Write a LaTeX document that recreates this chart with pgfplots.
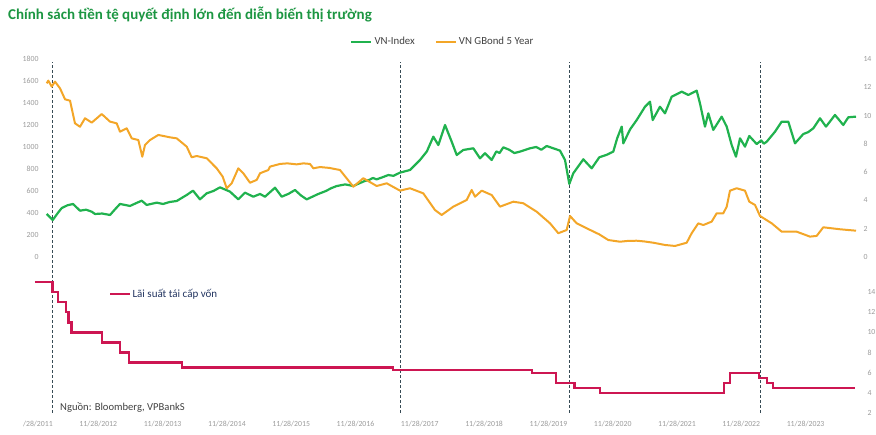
\documentclass[border=0pt]{standalone}
\usepackage{pgfplots}
\pgfplotsset{compat=1.18}
\usepackage{fontspec}
\setmainfont{Carlito}
\definecolor{vngreen}{RGB}{32,178,78}
\definecolor{bondorange}{RGB}{243,166,40}
\definecolor{ratered}{RGB}{205,22,82}
\definecolor{titlegreen}{RGB}{28,150,66}
\definecolor{tickgray}{RGB}{155,155,155}
\definecolor{legtext}{RGB}{64,64,64}
\definecolor{legnavy}{RGB}{34,52,96}
\definecolor{dashcol}{RGB}{55,75,85}
\pgfplotsset{
  base/.style={
    scale only axis,
    axis line style={draw=none},
    tick style={draw=none},
    ticklabel style={font=\fontsize{7.8}{9}\selectfont, text=tickgray},
    /pgf/number format/assume math mode=true,
    /pgf/number format/1000 sep={},
    legend image code/.code={\draw[#1] (0pt,0pt) -- (20pt,0pt);},
  }
}
\begin{document}
\begin{tikzpicture}
\useasboundingbox (0pt,0pt) rectangle (876pt,435pt);
\node[anchor=west, inner sep=0pt, text=titlegreen, font=\fontsize{15}{17}\selectfont\bfseries] at (8pt,420pt) {Chính sách tiền tệ quyết định lớn đến diễn biến thị trường};
% bottom panel: refinancing rate
\begin{axis}[base,
  at={(30pt,22pt)}, anchor=south west, width=834pt, height=141pt,
  xmin=2011.848, xmax=2024.818, ymin=2, ymax=16,
  ytick={2,4,6,8,10,12,14}, yticklabel pos=right, ytick pos=right,
  xtick={2011.91,2012.91,2013.91,2014.91,2015.91,2016.91,2017.91,2018.91,2019.91,2020.91,2021.91,2022.91,2023.91},
  xticklabels={\phantom{11}/28/2011,11/28/2012,11/28/2013,11/28/2014,11/28/2015,11/28/2016,11/28/2017,11/28/2018,11/28/2019,11/28/2020,11/28/2021,11/28/2022,11/28/2023},
  xticklabel style={yshift=-5pt},
  clip=false,
  legend style={at={(0.0947,0.844)}, anchor=west, draw=none, fill=none, inner sep=0pt,
    font=\fontsize{11}{12}\selectfont, text=legnavy,
    nodes={inner xsep=1pt}},
]
\addplot[dashcol, line width=0.7pt, dash pattern=on 3pt off 2pt, forget plot] coordinates {(2012.190,2) (2012.190,36.86)};
\addplot[dashcol, line width=0.7pt, dash pattern=on 3pt off 2pt, forget plot] coordinates {(2017.602,2) (2017.602,36.86)};
\addplot[dashcol, line width=0.7pt, dash pattern=on 3pt off 2pt, forget plot] coordinates {(2020.230,2) (2020.230,36.86)};
\addplot[dashcol, line width=0.7pt, dash pattern=on 3pt off 2pt, forget plot] coordinates {(2023.201,2) (2023.201,36.86)};
\addplot[ratered, line width=2.4pt, const plot] coordinates {
(2011.925,15) (2012.196,14) (2012.280,13) (2012.412,12) (2012.445,11) (2012.496,10)
(2012.967,9) (2013.243,8) (2013.384,7) (2014.212,6.5) (2017.493,6.25) (2019.655,6)
(2020.028,5) (2020.316,4.5) (2020.712,4) (2022.641,5) (2022.734,6) (2023.185,5.5)
(2023.309,5) (2023.403,4.5) (2024.678,4.5)};
\addlegendentry{Lãi suất tái cấp vốn}
\end{axis}
\node[anchor=west, inner sep=0pt, text=legtext, font=\fontsize{10.6}{12}\selectfont] at (60pt,28pt) {Nguồn: Bloomberg, VPBankS};
% top panel left: VN-Index
\begin{axis}[base,
  at={(42pt,178pt)}, anchor=south west, width=818pt, height=198pt,
  xmin=2012.034, xmax=2024.756, ymin=0, ymax=1800,
  ytick={0,200,...,1800}, xtick=\empty,
]
\addplot[vngreen, line width=2.2pt, line join=round] coordinates {
(2012.107,391) (2012.201,336) (2012.28,400) (2012.341,445) (2012.43,470) (2012.516,482) (2012.625,421) (2012.72,430) (2012.807,412)
(2012.858,391) (2012.97,395) (2013.092,382) (2013.18,440) (2013.247,482) (2013.403,464) (2013.5,490) (2013.585,512) (2013.662,473)
(2013.818,494) (2013.916,482) (2014.02,500) (2014.129,509) (2014.285,564) (2014.383,603) (2014.491,524)
(2014.596,579) (2014.7,600) (2014.802,633) (2014.958,594) (2015.087,524) (2015.191,585) (2015.320,548)
(2015.425,573) (2015.502,548) (2015.658,630) (2015.762,548) (2015.87,575) (2015.969,609) (2016.06,560) (2016.151,524)
(2016.331,573) (2016.45,600) (2016.53,625) (2016.617,645) (2016.75,660) (2016.876,645) (2016.95,665) (2017.05,690) (2017.12,700) (2017.18,718) (2017.239,706)
(2017.33,725) (2017.42,745) (2017.5,738) (2017.602,767) (2017.757,791)
(2017.913,882) (2018.02,960) (2018.120,1094) (2018.198,1018) (2018.302,1200) (2018.406,1048) (2018.484,927)
(2018.586,973) (2018.742,988) (2018.846,897) (2018.924,943) (2019.028,882) (2019.1,960) (2019.15,945) (2019.208,997)
(2019.3,975) (2019.38,945) (2019.468,958) (2019.624,988) (2019.72,1000) (2019.8,975) (2019.883,1009) (2020.090,967) (2020.168,882) (2020.235,664)
(2020.297,761) (2020.453,888) (2020.583,806) (2020.701,906) (2020.82,930) (2020.919,958) (2020.98,1080) (2021.050,1185)
(2021.075,1033) (2021.18,1160) (2021.283,1245) (2021.412,1366) (2021.490,1412) (2021.532,1245) (2021.645,1366)
(2021.723,1306) (2021.827,1457) (2021.983,1503) (2022.086,1473) (2022.216,1512) (2022.267,1397)
(2022.345,1185) (2022.397,1306) (2022.474,1155) (2022.605,1276) (2022.683,1185) (2022.760,1018)
(2022.827,912) (2022.890,1079) (2022.967,1003) (2023.034,1100) (2023.149,1027) (2023.22,1060) (2023.26,1030) (2023.305,1048)
(2023.434,1139) (2023.538,1230) (2023.641,1230) (2023.745,1033) (2023.874,1118) (2023.95,1135) (2024.030,1170)
(2024.134,1261) (2024.227,1185) (2024.367,1291) (2024.496,1200) (2024.574,1270) (2024.694,1276)};
\end{axis}
% top panel right: bond yield
\begin{axis}[base,
  at={(42pt,178pt)}, anchor=south west, width=818pt, height=198pt,
  xmin=2012.034, xmax=2024.756, ymin=0, ymax=14,
  ytick={0,2,...,14}, yticklabel pos=right, ytick pos=right, xtick=\empty,
  legend columns=2,
  legend style={at={(0.490,1.086)}, anchor=center, draw=none, fill=none,
    font=\fontsize{10.8}{12}\selectfont, text=legtext,
    /tikz/every even column/.append style={column sep=18pt}},
]
\addlegendimage{vngreen, line width=2.2pt}
\addlegendentry{VN-Index}
\addplot[bondorange, line width=2pt, line join=round] coordinates {
(2012.107,12.28) (2012.132,12.47) (2012.185,12.05) (2012.236,12.40) (2012.314,11.93) (2012.392,11.15)
(2012.470,11.05) (2012.547,9.45) (2012.625,9.21) (2012.703,9.81) (2012.807,9.50) (2012.963,10.11)
(2013.092,9.57) (2013.196,9.45) (2013.247,8.86) (2013.351,9.10) (2013.429,8.39) (2013.532,8.27)
(2013.594,7.09) (2013.636,7.92) (2013.714,8.27) (2013.843,8.63) (2014.025,8.46) (2014.129,8.39)
(2014.285,7.80) (2014.362,7.05) (2014.440,7.14) (2014.596,6.98) (2014.751,6.27) (2014.844,5.68)
(2014.907,4.86) (2014.984,5.21) (2015.087,6.27) (2015.165,5.92) (2015.269,5.25) (2015.373,5.45)
(2015.425,5.92) (2015.554,6.15) (2015.580,6.39) (2015.736,6.58) (2015.85,6.62) (2015.995,6.55) (2016.1,6.62) (2016.202,6.58)
(2016.254,6.27) (2016.358,6.36) (2016.5,6.3) (2016.669,6.15) (2016.876,4.97) (2017.031,5.57) (2017.239,5.02)
(2017.395,5.21) (2017.602,4.69) (2017.757,4.86) (2017.964,4.50) (2018.146,3.32) (2018.250,2.97)
(2018.431,3.56) (2018.639,4.03) (2018.717,4.74) (2018.768,4.26) (2018.873,4.69) (2019.028,4.38)
(2019.157,3.56) (2019.364,3.91) (2019.519,3.80) (2019.728,3.20) (2019.935,2.38) (2020.064,1.68)
(2020.194,1.91) (2020.246,2.90) (2020.350,2.38) (2020.505,2.03) (2020.701,1.60) (2020.841,1.20)
(2021.023,1.08) (2021.15,1.14) (2021.283,1.15) (2021.4,1.1) (2021.541,1.01) (2021.723,0.85) (2021.879,0.78) (2022.061,1.01)
(2022.138,1.68) (2022.241,2.38) (2022.319,2.26) (2022.449,2.50) (2022.527,3.09) (2022.630,3.09)
(2022.683,3.56) (2022.734,4.69) (2022.838,4.86) (2022.967,4.69) (2023.034,3.91) (2023.123,3.68)
(2023.201,2.90) (2023.383,2.38) (2023.538,1.79) (2023.771,1.79) (2023.978,1.44) (2024.082,1.49)
(2024.185,2.10) (2024.445,1.96) (2024.694,1.86)};
\addlegendentry{VN GBond 5 Year}
\end{axis}
\end{tikzpicture}
\end{document}
